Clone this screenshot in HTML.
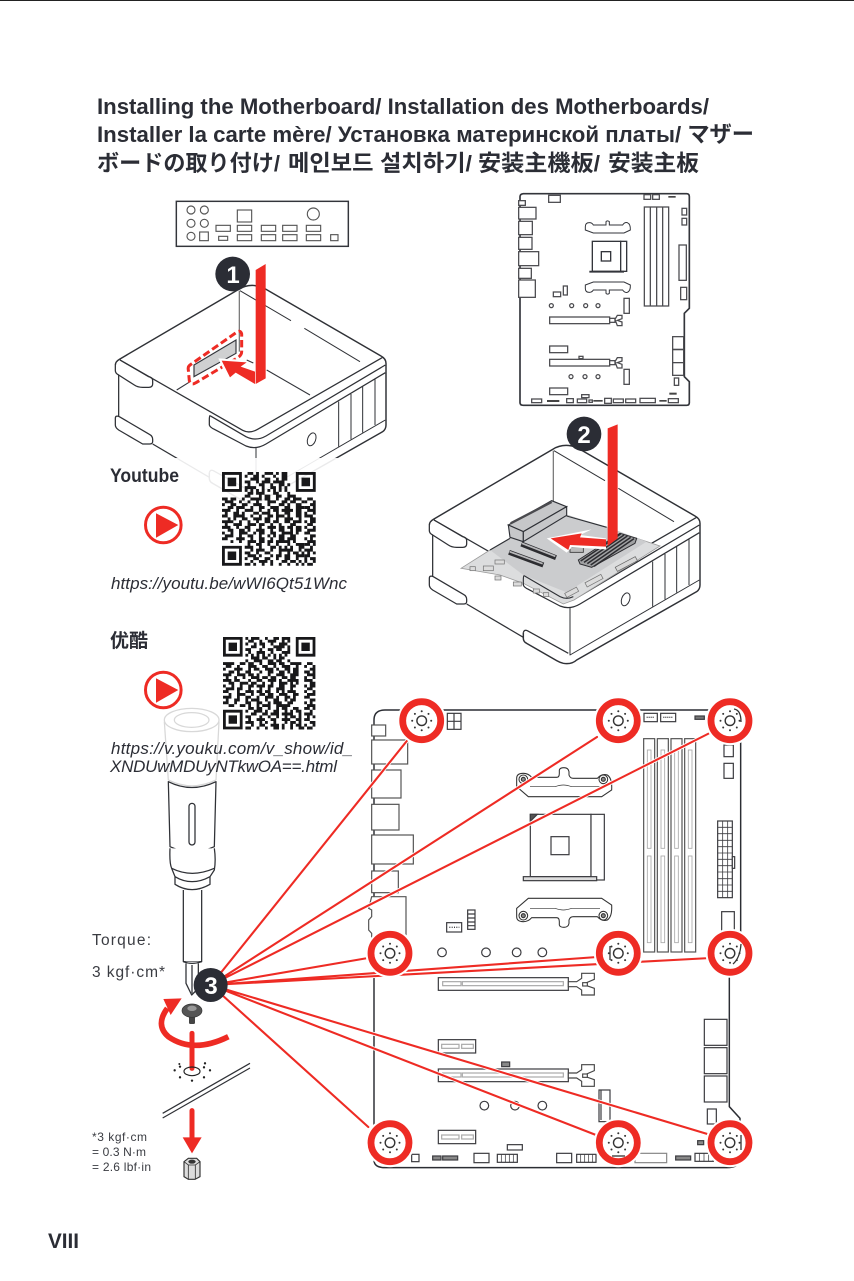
<!DOCTYPE html>
<html><head><meta charset="utf-8"><style>
html,body{margin:0;padding:0;background:#fff}
svg{display:block}
text{font-family:"Liberation Sans","Noto Sans CJK JP",sans-serif;fill:#2b2d35}
</style></head><body>
<svg width="854" height="1281" viewBox="0 0 854 1281" xmlns="http://www.w3.org/2000/svg">
<defs>
<g id="case" fill="none" stroke="#2f3136" stroke-width="3.8" stroke-linejoin="round">
<path fill="#fff" stroke="none" d="M28,345Q28,335 40,328L398,118Q430,98 470,112L825,318Q840,326 840,340V525Q840,538 830,545L470,750Q455,764 430,760Q420,758 410,752L320,700Q310,695 310,685V665L140,582H110L38,540Q28,533 28,525V505L38,495V375Q28,370 28,360Z"/>
<path stroke-width="4.4" d="M28,345Q28,335 40,328L398,118Q430,98 470,112L825,318Q840,326 840,340V525Q840,538 830,545L470,750Q455,764 430,760Q420,758 410,752L320,700Q310,695 310,685V668"/>
<path d="M42,330L410,541Q430,552 455,538L830,322"/>
<path d="M312,497L420,560Q450,575 480,558L838,345"/>
<path d="M312,497Q310,497 310,510V525Q312,532 325,538L420,588Q450,600 480,582L838,368"/>
<path d="M28,345V362Q28,370 38,375L85,405Q95,412 110,412H128Q140,412 140,402V392Q140,382 128,380L42,330"/>
<path d="M38,375V498"/>
<path d="M28,505Q28,495 40,500L130,553Q140,558 140,568V575Q140,583 128,582H110L38,540Q28,533 28,525Z"/>
<path d="M140,582L310,682"/>
<path d="M310,668Q312,658 322,662L445,730"/>
<path d="M450,592V735L838,510" stroke-width="3"/>
<path stroke="#777" d="M400,122V305"/>
<path stroke-width="3" d="M402,122L555,212M595,235L762,335"/>
<path stroke-width="3" d="M698,455V590M735,432V568M770,410V548M807,388V525"/>
<ellipse cx="617" cy="568" rx="12" ry="20" transform="rotate(20 617 568)" stroke-width="3"/>
</g>
<g id="screw" fill="none" stroke="#333">
<circle r="4.8" stroke-width="1.4"/>
<g fill="#333" stroke="none"><circle cx="0" cy="-9.5" r="1"/><circle cx="6.8" cy="-6.8" r="1"/><circle cx="9.5" cy="0" r="1"/><circle cx="6.8" cy="6.8" r="1"/><circle cx="0" cy="9.5" r="1"/><circle cx="-6.8" cy="6.8" r="1"/><circle cx="-9.5" cy="0" r="1"/><circle cx="-6.8" cy="-6.8" r="1"/></g>
</g>
<g id="ring"><circle r="24.5" fill="#fff"/><circle r="19" fill="#fff" stroke="#ee2b24" stroke-width="6.8"/><use href="#screw"/></g>
<path id="finder" fill-rule="evenodd" d="M0 0h7v7h-7zM1 1v5h5v-5zM2 2h3v3h-3z"/>
<g id="lever" fill="#fff" stroke="#444" stroke-width="3.4">
<path d="M0,12H25L40,2V-13H78V5L55,15V24L78,32V52H40V37L25,27H0Z"/>
<rect x="43" y="15" width="14" height="10"/>
</g>
<g id="cooler" fill="#fff" stroke="#333" stroke-width="3.2">
<path d="M470,265Q470,250 490,250Q505,250 515,262H590Q598,262 598,250V240Q600,233 612,233Q625,233 627,245V255Q630,265 640,265H712Q725,250 742,255Q757,265 755,300L725,320H505L470,290Z"/>
<path fill="none" stroke-width="2" d="M510,290H585Q600,285 610,285Q620,285 635,290H720"/>
<circle cx="490" cy="268" r="13"/><circle cx="490" cy="268" r="6" fill="#888"/>
<circle cx="730" cy="268" r="13"/><circle cx="730" cy="268" r="6" fill="#888"/>
</g>
<path id="qrx" fill="none" stroke="#18181a" stroke-width="1.04" d="M30 9.5h2M29 10.5h1m2 0h1M31 11.5h2M29 12.5h2m1 0h1M30 13.5h3M29 14.5h1m2 0h1M29 15.5h3M31 16.5h2M29 17.5h1m1 0h2M30 18.5h2M29 19.5h1m2 0h1M30 20.5h3M29 21.5h2M31 22.5h2M29 23.5h1m1 0h1M30 24.5h3M29 25.5h2m1 0h1M31 26.5h1M29 27.5h3M30 28.5h1m1 0h1M29 29.5h2M31 30.5h2M29 31.5h1m2 0h1M30 32.5h2"/>
</defs>

<rect width="854" height="1281" fill="#fff"/>
<rect width="854" height="1" fill="#222"/>

<!-- Title -->
<text x="97" y="114" font-size="22.5" font-weight="700" textLength="612" lengthAdjust="spacingAndGlyphs">Installing the Motherboard/ Installation des Motherboards/</text>
<text x="97" y="142" font-size="22.5" font-weight="700" textLength="657" lengthAdjust="spacingAndGlyphs">Installer la carte mère/ Установка материнской платы/ マザー</text>
<text x="97" y="171" font-size="22.5" font-weight="700" textLength="183" lengthAdjust="spacingAndGlyphs">ボードの取り付け/</text>
<text x="288" y="171" font-size="22.5" font-weight="700" textLength="184" lengthAdjust="spacingAndGlyphs">메인보드 설치하기/</text>
<text x="478" y="171" font-size="22.5" font-weight="700" textLength="122" lengthAdjust="spacingAndGlyphs">安装主機板/</text>
<text x="608" y="171" font-size="22.5" font-weight="700" textLength="91" lengthAdjust="spacingAndGlyphs">安装主板</text>

<!-- IO shield -->
<g transform="translate(90 190) scale(.33333)" fill="#fff" stroke="#555" stroke-width="3.4">
<rect x="259" y="34" width="516" height="135" stroke="#33353b" stroke-width="4.4"/>
<circle cx="303" cy="60" r="12"/><circle cx="343" cy="60" r="12"/><circle cx="303" cy="100" r="12"/><circle cx="343" cy="100" r="12"/><circle cx="303" cy="139" r="12"/>
<rect x="329" y="126" width="26" height="26"/>
<rect x="378" y="106" width="43" height="18"/><rect x="386" y="139" width="27" height="12"/>
<rect x="442" y="60" width="43" height="36"/><rect x="442" y="106" width="43" height="18"/><rect x="442" y="134" width="43" height="18"/>
<rect x="514" y="106" width="43" height="18"/><rect x="514" y="134" width="43" height="18"/>
<rect x="578" y="106" width="43" height="18"/><rect x="578" y="134" width="43" height="18"/>
<rect x="649" y="106" width="43" height="18"/><rect x="649" y="134" width="43" height="18"/>
<circle cx="670" cy="72" r="18"/><rect x="722" y="134" width="22" height="18"/>
</g>

<!-- Case 1 -->
<g transform="translate(106 250) scale(.33333)"><use href="#case"/></g>
<path d="M176.7,390L190,381.7M246.7,360L253.3,363M266.7,370L310,395" stroke="#33353b" stroke-width="1.1" fill="none"/>
<g transform="translate(90 190) scale(.33333)">
<polygon points="312,525 438,450 438,490 312,560" fill="#cfd0d1" stroke="#33353b" stroke-width="3.5"/>
<path d="M300,525Q293,530 295,540L298,572Q303,588 318,578L440,505Q455,497 455,485V432Q452,418 438,428Z" fill="none" stroke="#ee2b24" stroke-width="9" stroke-dasharray="22 10"/>
<polygon points="385,505 470,510 462,525 505,540 505,590 437,555 415,572" fill="#fff"/>
<polygon points="395,512 470,517 452,530 495,545 495,582 437,548 420,562" fill="#ee2b24"/>
<polygon points="497,240 527,222 527,565 497,582" fill="#ee2b24"/>
<circle cx="428" cy="252" r="52" fill="#2b2d35"/>
</g>
<text x="233" y="283" font-size="24" font-weight="700" text-anchor="middle" style="fill:#fff">1</text>

<rect x="100" y="458" width="315" height="110" fill="#fff" fill-opacity=".9"/>

<!-- Top motherboard -->
<g transform="translate(420 180) scale(.33333)" fill="#fff" stroke="#33353b" stroke-width="4">
<path d="M300,50Q300,42 310,41H800Q808,41 808,50V385L793,400V590L808,605V668Q808,676 800,676H310Q300,676 300,668Z" fill="#fff" stroke-width="5"/>
<g stroke="#4a4a4e" stroke-width="3.8">
<rect x="296" y="62" width="20" height="14"/><rect x="296" y="82" width="52" height="35"/><rect x="296" y="124" width="41" height="40"/><rect x="296" y="172" width="40" height="36"/><rect x="296" y="215" width="60" height="42"/><rect x="296" y="265" width="38" height="30"/><rect x="296" y="300" width="50" height="52"/>
<rect x="386" y="46" width="35" height="21"/><rect x="672" y="44" width="20" height="14"/><rect x="698" y="44" width="20" height="14"/>
<rect x="786" y="85" width="14" height="20"/><rect x="786" y="115" width="14" height="20"/><rect x="777" y="195" width="22" height="106"/><rect x="782" y="322" width="18" height="37"/>
<rect x="673" y="81" width="73" height="297"/><path d="M691,81V378M710,81V378M728,81V378" fill="none"/>
<rect x="400" y="336" width="22" height="14"/><rect x="430" y="318" width="12" height="27"/>
<circle cx="394" cy="377" r="6"/><circle cx="455" cy="377" r="6"/><circle cx="497" cy="377" r="6"/><circle cx="534" cy="377" r="6"/>
<rect x="612" y="355" width="16" height="45"/>
<rect x="389" y="411" width="180" height="20"/><rect x="569" y="415" width="16" height="12"/>
<path d="M585,418L592,406H606V416L592,421 606,426V437H592Z"/>
<rect x="389" y="498" width="54" height="20"/><rect x="477" y="529" width="12" height="7"/>
<rect x="389" y="538" width="180" height="20"/><rect x="569" y="542" width="16" height="12"/>
<path d="M585,545L592,533H606V543L592,548 606,553V564H592Z"/>
<circle cx="453" cy="590" r="6"/><circle cx="495" cy="590" r="6"/><circle cx="534" cy="590" r="6"/>
<rect x="612" y="568" width="16" height="45"/><rect x="389" y="624" width="54" height="20"/><rect x="485" y="644" width="22" height="9"/>
<rect x="335" y="657" width="30" height="11"/><rect x="440" y="656" width="20" height="12"/><rect x="472" y="657" width="28" height="11"/><rect x="507" y="660" width="10" height="7"/><rect x="554" y="655" width="20" height="15"/><rect x="580" y="657" width="30" height="11"/><rect x="617" y="657" width="30" height="11"/><rect x="660" y="655" width="46" height="13"/><rect x="745" y="656" width="30" height="12"/>
<rect x="758" y="470" width="33" height="38"/><rect x="758" y="509" width="33" height="39"/><rect x="758" y="548" width="33" height="38"/><rect x="763" y="594" width="13" height="22"/>
</g>
<g fill="#444" stroke="none"><rect x="745" y="48" width="22" height="5"/><rect x="381" y="660" width="37" height="6"/><rect x="520" y="660" width="28" height="5"/><rect x="718" y="660" width="22" height="5"/><rect x="748" y="638" width="22" height="6"/></g>
<path d="M496,140Q496,128 508,128Q516,128 520,135H558V125Q562,120 568,125V135H608Q614,126 622,128Q632,132 631,150L612,159H520L496,150Z" stroke-width="3"/>
<path d="M496,325Q496,337 508,337Q516,337 520,330H558V340Q562,345 568,340V330H608Q614,339 622,337Q632,333 631,315L612,306H520L496,315Z" stroke-width="3"/>
<rect x="517" y="184" width="85" height="90"/><rect x="602" y="184" width="18" height="90"/><rect x="544" y="215" width="28" height="28"/>
<path d="M508,275H612" stroke-width="5.5" fill="none"/>
</g>

<!-- Case 2 -->
<g transform="translate(420 410) scale(.33333)">
<use href="#case"/>
<polygon points="123,475 210,420 270,385 440,315 720,408 462,570 430,582 310,520 240,495" fill="#dcddde" stroke="#9a9a9a" stroke-width="2.4"/>
<polygon points="210,420 270,385 310,395 440,315 560,350 680,395 440,547 310,495" fill="#cbccce"/>
<path d="M440,318L560,352" stroke="#2f3136" stroke-width="3.5" fill="none"/>
<path d="M210,420L270,385" stroke="#2f3136" stroke-width="3.5" fill="none"/>
<g fill="#c6c7c9" stroke="#2e3036" stroke-width="3.4">
<polygon points="265,345 395,272 440,290 310,365"/>
<polygon points="265,345 310,365 310,395 270,382"/>
<polygon points="310,365 440,290 440,316 310,395"/>
</g>
<path d="M272,340L395,276" stroke="#4a4a4e" stroke-width="7" fill="none"/>
<path d="M304,402L408,443M267,427L370,465" stroke="#2c2c30" stroke-width="15" fill="none"/>
<path d="M306,400L406,439M269,425L368,461" stroke="#b8b8ba" stroke-width="5" fill="none"/>
<polygon points="475,450 600,370 650,385 645,400 515,472 480,462" fill="#a0a1a3" stroke="#2c2c30" stroke-width="3"/>
<path d="M482,453L602,372M492,457L612,375M502,461L622,378M512,465L632,382M522,469L642,386" stroke="#2c2c30" stroke-width="4.5" fill="none"/>
<rect x="450" y="412" width="40" height="15" fill="#bbb" stroke="#333" stroke-width="2.5"/>
<rect x="585" y="455" width="68" height="14" transform="rotate(-28 619 462)" fill="#d8d8d8" stroke="#666" stroke-width="2.2"/>
<g fill="#dcdcdc" stroke="#777" stroke-width="2.2">
<rect x="150" y="470" width="16" height="12"/><rect x="190" y="468" width="30" height="14"/><rect x="225" y="450" width="28" height="12"/><rect x="225" y="498" width="18" height="12"/><rect x="280" y="516" width="24" height="12"/><rect x="340" y="537" width="18" height="12"/><rect x="370" y="548" width="16" height="12"/><rect x="435" y="540" width="40" height="14" transform="rotate(-28 455 547)"/><rect x="495" y="505" width="54" height="14" transform="rotate(-28 522 512)"/>
</g>
<path d="M312,497L420,560Q440,570 460,560" fill="none" stroke="#2f3136" stroke-width="3.4"/>
<path d="M312,497Q310,497 310,510V525" fill="none" stroke="#2f3136" stroke-width="3.4"/>
<polygon points="380,385 515,358 480,375 558,385 558,418 455,412 440,428" fill="#fff"/>
<polygon points="392,385 485,370 480,382 558,388 558,410 450,405 445,420" fill="#ee2b24"/>
<polygon points="563,55 593,43 593,385 563,408" fill="#ee2b24"/>
<circle cx="492" cy="72" r="52" fill="#2b2d35"/>
</g>
<text x="584" y="443" font-size="24" font-weight="700" text-anchor="middle" style="fill:#fff">2</text>

<!-- Youtube -->
<text x="110" y="482" font-size="19.5" font-weight="700" textLength="69" lengthAdjust="spacingAndGlyphs">Youtube</text>
<circle cx="163.3" cy="525" r="17.8" fill="#fff" stroke="#ee2b24" stroke-width="3"/>
<polygon points="156,513.3 156,537.7 178.3,525" fill="#ee2b24"/>
<text x="111" y="589" font-size="17" font-style="italic" textLength="236" lengthAdjust="spacing">https://youtu.be/wWI6Qt51Wnc</text>

<g transform="translate(222 472) scale(2.84)" fill="#18181a">
<use href="#finder"/><use href="#finder" x="26"/><use href="#finder" y="26"/>
<use href="#qrx"/>
<path fill="none" stroke="#18181a" stroke-width="1.04" d="M9 .5h2m1 0h1m2 0h3m1 0h1m1 0h2M8 1.5h1m2 0h2m1 0h1m3 0h1m2 0h2M10 2.5h3m2 0h2m2 0h1m1 0h2M8 3.5h2m2 0h1m1 0h3m1 0h4M9 4.5h1m3 0h2m2 0h1m2 0h2m1 0h1M8 5.5h4m2 0h1m2 0h2m1 0h1m1 0h1M8 6.5h1m1 0h1m1 0h1m1 0h1m1 0h1m1 0h1m1 0h1m1 0h1M9 7.5h2m1 0h3m3 0h2m3 0h1M8 8.5h2m3 0h1m1 0h2m2 0h2m2 0h3M0 9.5h2m1 0h2m2 0h1m2 0h4m1 0h2m2 0h1m2 0h2m1 0h3M1 10.5h3m2 0h1m2 0h1m2 0h1m3 0h3m2 0h2m1 0h2m2 0h1M0 11.5h1m2 0h2m2 0h2m2 0h3m2 0h1m3 0h2m1 0h1m2 0h2M2 12.5h2m1 0h3m2 0h1m2 0h2m2 0h3m2 0h2m2 0h3M0 13.5h3m2 0h1m2 0h3m2 0h1m2 0h1m1 0h2m1 0h4m1 0h2M1 14.5h1m2 0h2m1 0h1m3 0h2m1 0h3m2 0h1m2 0h2m2 0h2M0 15.5h2m2 0h4m2 0h1m2 0h1m2 0h2m1 0h3m1 0h1m2 0h2M2 16.5h1m1 0h1m2 0h2m2 0h3m1 0h2m2 0h1m2 0h3m2 0h1M0 17.5h4m2 0h1m2 0h1m2 0h1m2 0h2m1 0h2m2 0h2m1 0h3M1 18.5h1m2 0h3m2 0h3m1 0h2m2 0h1m2 0h1m3 0h2M0 19.5h3m2 0h1m2 0h2m3 0h1m2 0h3m1 0h2m1 0h2m1 0h2M2 20.5h2m2 0h2m1 0h1m2 0h3m2 0h1m2 0h2m2 0h1m1 0h2M0 21.5h1m2 0h1m2 0h3m2 0h1m1 0h2m2 0h2m2 0h4m1 0h1M1 22.5h3m2 0h1m2 0h2m2 0h1m2 0h1m1 0h1m1 0h2m2 0h2M0 23.5h2m3 0h3m2 0h1m2 0h2m2 0h1m2 0h2m1 0h3M3 24.5h1m2 0h1m2 0h3m1 0h2m1 0h2m1 0h5m1 0h1M9 25.5h1m2 0h2m2 0h1m2 0h1m3 0h1m2 0h3M8 26.5h3m2 0h1m3 0h2m1 0h1m1 0h1m1 0h1m2 0h2M10 27.5h1m1 0h3m2 0h1m2 0h5m2 0h1M8 28.5h2m2 0h1m2 0h2m3 0h1m2 0h1m1 0h2m1 0h1M9 29.5h3m1 0h1m3 0h1m1 0h2m1 0h2m2 0h3M8 30.5h1m2 0h2m2 0h2m2 0h1m2 0h2m2 0h1m2 0h1M10 31.5h1m2 0h3m1 0h1m3 0h2m1 0h2m1 0h1M8 32.5h2m1 0h1m2 0h1m2 0h1m2 0h1m2 0h1m2 0h1m1 0h1"/>
</g>

<!-- Youku -->
<text x="110" y="647" font-size="19" font-weight="700">优酷</text>
<circle cx="163.3" cy="690" r="17.8" fill="#fff" stroke="#ee2b24" stroke-width="3"/>
<polygon points="156,678.3 156,702.7 178.3,690" fill="#ee2b24"/>

<g transform="translate(223 637) scale(2.8)" fill="#18181a">
<use href="#finder"/><use href="#finder" x="26"/><use href="#finder" y="26"/>
<use href="#qrx"/>
<path fill="none" stroke="#18181a" stroke-width="1.04" d="M8 .5h1m1 0h3m2 0h1m2 0h2m1 0h3M9 1.5h2m2 0h1m2 0h3m2 0h1m1 0h1M8 2.5h1m2 0h1m1 0h2m2 0h1m2 0h3M10 3.5h2m2 0h1m3 0h4m1 0h1M8 4.5h2m3 0h1m2 0h2m1 0h2m2 0h1M9 5.5h1m2 0h3m2 0h1m3 0h3M8 6.5h1m1 0h1m1 0h1m1 0h1m1 0h1m1 0h1m1 0h1m1 0h1M10 7.5h3m1 0h2m2 0h1m1 0h2M8 8.5h1m2 0h3m2 0h2m1 0h2m2 0h1M0 9.5h4m2 0h2m1 0h2m2 0h1m2 0h3m1 0h2m2 0h4M1 10.5h2m2 0h1m3 0h3m2 0h2m2 0h1m2 0h3m2 0h1M0 11.5h1m3 0h3m2 0h1m1 0h2m2 0h3m1 0h1m2 0h2m1 0h2M2 12.5h2m1 0h1m2 0h2m3 0h1m2 0h2m2 0h2m1 0h1m1 0h2M0 13.5h3m2 0h3m1 0h2m1 0h1m3 0h1m2 0h3m2 0h3M1 14.5h1m2 0h1m2 0h1m2 0h3m1 0h2m1 0h2m2 0h2m1 0h2M0 15.5h3m1 0h2m3 0h1m2 0h2m2 0h3m1 0h1m2 0h4M2 16.5h2m2 0h3m1 0h2m2 0h1m2 0h1m2 0h3m1 0h1m1 0h1M0 17.5h1m2 0h1m2 0h1m2 0h2m1 0h3m1 0h2m2 0h2m2 0h2M1 18.5h3m1 0h2m2 0h1m3 0h1m2 0h1m2 0h3m2 0h1M0 19.5h2m3 0h1m2 0h3m1 0h2m1 0h2m2 0h1m1 0h1m1 0h3M2 20.5h1m2 0h3m2 0h1m2 0h2m1 0h2m2 0h3m2 0h2M0 21.5h3m2 0h1m2 0h2m2 0h1m2 0h3m1 0h1m2 0h2m1 0h1M1 22.5h1m2 0h2m2 0h1m1 0h3m2 0h1m2 0h2m2 0h1m1 0h2M0 23.5h2m2 0h1m3 0h2m2 0h2m2 0h1m1 0h3m2 0h2M2 24.5h2m2 0h2m1 0h1m2 0h1m1 0h3m2 0h5M9 25.5h2m1 0h2m2 0h1m2 0h1m1 0h2m2 0h2M8 26.5h1m2 0h3m1 0h1m2 0h2m2 0h1m1 0h1m1 0h2M10 27.5h2m2 0h2m1 0h3m1 0h4m2 0h1M8 28.5h2m3 0h1m2 0h1m2 0h1m2 0h1m1 0h2m1 0h1M9 29.5h1m2 0h3m2 0h2m2 0h3m2 0h2M8 30.5h3m2 0h1m1 0h1m2 0h1m3 0h1m1 0h2m1 0h1M10 31.5h1m2 0h2m2 0h3m1 0h1m2 0h1m1 0h2M8 32.5h2m2 0h1m2 0h1m2 0h2m1 0h1m2 0h1m2 0h2"/>
</g>

<!-- Screwdriver -->
<g transform="translate(80 700) scale(.33333)" fill="none" stroke="#2f3136" stroke-width="3.8" stroke-linejoin="round">
<g stroke="#d8d8d8">
<ellipse cx="335" cy="60" rx="82" ry="35"/><ellipse cx="335" cy="60" rx="52" ry="22"/>
<path d="M253,65L265,240M417,65L408,240M265,240Q335,275 408,240"/>
</g>
<path d="M265,245Q335,280 408,245L403,440Q335,470 270,440Z" fill="#fff"/>
<rect x="327" y="310" width="18" height="125" rx="9"/>
<path d="M270,445Q268,490 275,505L285,530V553Q335,585 390,553V530L403,510Q408,480 403,445" fill="#fff"/>
<path d="M275,505Q335,535 403,505M285,530Q335,560 390,530"/>
<path d="M310,570V785H365V570"/>
<path d="M310,785Q335,795 365,785M318,790V850L335,885 355,865V790" fill="#fff"/>
<path d="M336,795V880"/>
</g>
<text x="92" y="945" font-size="15.5" textLength="59" lengthAdjust="spacing" style="fill:#3a3c42">Torque:</text>
<text x="92" y="977" font-size="15.5" textLength="73" lengthAdjust="spacing" style="fill:#3a3c42">3 kgf·cm*</text>
<text x="111" y="754" font-size="17" font-style="italic" textLength="242" lengthAdjust="spacing">https://v.youku.com/v_show/id_</text>
<text x="110" y="772" font-size="17" font-style="italic" textLength="227" lengthAdjust="spacing">XNDUwMDUyNTkwOA==.html</text>

<!-- Large motherboard -->
<g transform="translate(360 690) scale(.33333)" fill="#fff" stroke="#3c3c40" stroke-width="3.6">
<path d="M42,90Q42,60 75,60H1142V800L1108,800V1250L1140,1285V1405Q1140,1433 1100,1433H75Q42,1433 42,1410Z" stroke="#2b2d33" stroke-width="4.4"/>
<rect x="262" y="70" width="41" height="48"/><path d="M282,70V118M262,94H303" fill="none"/>
<rect x="852" y="70" width="40" height="25"/><rect x="902" y="70" width="45" height="25"/>
<path d="M860,82h24M910,82h28" stroke-width="4" stroke-dasharray="3 3" fill="none"/>
<rect x="1005" y="78" width="28" height="10" fill="#777"/>
<rect x="1092" y="165" width="28" height="35"/><rect x="1092" y="220" width="28" height="45"/>
<g stroke="#555">
<rect x="851" y="146" width="33" height="640"/><rect x="892" y="146" width="33" height="640"/><rect x="933" y="146" width="33" height="640"/><rect x="974" y="146" width="33" height="640"/>
</g>
<g stroke="#aaa" stroke-width="2.6">
<rect x="862" y="180" width="11" height="295"/><rect x="862" y="498" width="11" height="260"/>
<rect x="903" y="180" width="11" height="295"/><rect x="903" y="498" width="11" height="260"/>
<rect x="944" y="180" width="11" height="295"/><rect x="944" y="498" width="11" height="260"/>
<rect x="985" y="180" width="11" height="295"/><rect x="985" y="498" width="11" height="260"/>
</g>
<use href="#cooler"/>
<use href="#cooler" transform="translate(0 945) scale(1 -1)"/>
<rect x="511" y="373" width="182" height="187"/><rect x="693" y="373" width="40" height="197"/><rect x="573" y="440" width="54" height="54"/>
<rect x="490" y="560" width="220" height="12" fill="#ddd"/>
<polygon points="511,373 532,373 511,394" fill="#555"/>
<rect x="1073" y="393" width="44" height="230"/>
<path d="M1088,393V623M1103,393V623M1073,412H1117M1073,431H1117M1073,451H1117M1073,470H1117M1073,489H1117M1073,508H1117M1073,527H1117M1073,546H1117M1073,566H1117M1073,585H1117M1073,604H1117" fill="none" stroke-width="2.4"/>
<rect x="1117" y="500" width="7" height="35"/>
<rect x="1085" y="665" width="38" height="60"/>
<g stroke="#555">
<rect x="35" y="105" width="42" height="33"/><rect x="35" y="150" width="108" height="72"/><rect x="35" y="240" width="88" height="84"/><rect x="35" y="343" width="82" height="77"/><rect x="35" y="435" width="125" height="87"/><rect x="35" y="543" width="80" height="65"/>
<path d="M35,620H138V760H35V730L26,720V690L35,680V660L26,655Z"/>
</g>
<rect x="260" y="698" width="45" height="28"/><path d="M268,712h30" stroke-width="4" stroke-dasharray="3 4" fill="none"/>
<rect x="323" y="660" width="22" height="58"/><path d="M323,672h22M323,684h22M323,696h22M323,707h22" stroke-width="3.5" fill="none"/>
<circle cx="246" cy="787" r="13"/><circle cx="378" cy="787" r="13"/><circle cx="470" cy="787" r="13"/><circle cx="547" cy="787" r="13"/>
<!-- PCIe -->
<rect x="235" y="863" width="390" height="38"/><rect x="248" y="875" width="55" height="12" stroke="#aaa"/><rect x="307" y="875" width="303" height="12" stroke="#aaa"/>
<use href="#lever" transform="translate(625 863)"/>
<rect x="235" y="1049" width="112" height="40"/><rect x="245" y="1063" width="52" height="12" stroke="#aaa"/><rect x="305" y="1063" width="35" height="12" stroke="#aaa"/>
<rect x="425" y="1116" width="24" height="14" fill="#888"/>
<rect x="235" y="1137" width="390" height="38"/><rect x="248" y="1149" width="55" height="12" stroke="#aaa"/><rect x="307" y="1149" width="303" height="12" stroke="#aaa"/>
<use href="#lever" transform="translate(625 1137)"/>
<circle cx="373" cy="1247" r="13"/><circle cx="465" cy="1247" r="13"/><circle cx="547" cy="1247" r="13"/>
<rect x="717" y="1200" width="33" height="95"/><path d="M723,1200V1290" fill="none"/>
<rect x="1033" y="988" width="68" height="78"/><rect x="1033" y="1073" width="68" height="78"/><rect x="1033" y="1158" width="68" height="78"/>
<rect x="1042" y="1257" width="27" height="45"/>
<rect x="235" y="1321" width="112" height="40"/><rect x="245" y="1335" width="52" height="12" stroke="#aaa"/><rect x="305" y="1335" width="35" height="12" stroke="#aaa"/>
<rect x="442" y="1364" width="45" height="16"/>
<rect x="155" y="1393" width="22" height="22"/>
<rect x="218" y="1398" width="25" height="12" fill="#888"/><rect x="248" y="1398" width="45" height="12" fill="#888"/>
<rect x="342" y="1390" width="45" height="28"/><rect x="412" y="1393" width="60" height="24"/><path d="M424,1393V1417M436,1393V1417M448,1393V1417M460,1393V1417" fill="none" stroke-width="2.2"/>
<rect x="590" y="1390" width="45" height="28"/><rect x="650" y="1393" width="58" height="24"/><path d="M662,1393V1417M674,1393V1417M686,1393V1417M698,1393V1417" fill="none" stroke-width="2.2"/>
<rect x="825" y="1390" width="95" height="28" stroke="#888"/>
<rect x="947" y="1398" width="45" height="12" fill="#888"/>
<rect x="1005" y="1390" width="55" height="24"/><path d="M1018,1390V1414M1032,1390V1414M1046,1390V1414" fill="none" stroke-width="2.2"/>
<rect x="1013" y="1352" width="18" height="12" fill="#888"/>
</g>

<!-- red lines -->
<g fill="none" stroke-linecap="round">
<path d="M211,985L410,737M211,985L597,737M211,985L711.7,732M211,985L368,958M211,985L597.3,957M211,985L710.7,958M211,985L368.3,1127M211,985L596,1135M211,985L710.7,1135" stroke="#fff" stroke-width="3.8"/>
<path d="M211,985L410,737M211,985L597,737M211,985L711.7,732M211,985L368,958M211,985L597.3,957M211,985L710.7,958M211,985L368.3,1127M211,985L596,1135M211,985L710.7,1135" stroke="#ee2b24" stroke-width="2.1"/>
</g>

<use href="#ring" x="421.7" y="720.7"/>
<use href="#ring" x="618.3" y="720.7"/>
<use href="#ring" x="730" y="720.7"/>
<use href="#ring" x="390" y="953.3"/>
<use href="#ring" x="618.3" y="953.3"/>
<use href="#ring" x="730" y="953.3"/>
<use href="#ring" x="390" y="1142.7"/>
<use href="#ring" x="618.3" y="1142.7"/>
<use href="#ring" x="730" y="1142.7"/>
<g fill="none" stroke="#333" stroke-width="1.3">
<path d="M734,709Q741,710 741,722"/>
<path d="M741,944Q740,958 733,964"/>
<path d="M610,946V960"/>
<path d="M741,1135V1150"/>
<path d="M612,1156H625"/>
</g>

<!-- Lower assembly -->
<g transform="translate(80 700) scale(.33333)">
<path d="M445,1010Q340,1062 265,1010Q225,975 262,925" fill="none" stroke="#ee2b24" stroke-width="17"/>
<polygon points="250,897 305,895 272,945" fill="#ee2b24"/>
<path d="M336,1000V1105" stroke="#ee2b24" stroke-width="15" stroke-linecap="round"/>
<rect x="327" y="940" width="18" height="32" rx="4" fill="#444"/>
<ellipse cx="336" cy="932" rx="30" ry="20" fill="#555" stroke="#333" stroke-width="2"/>
<ellipse cx="336" cy="925" rx="14" ry="8" fill="#999"/>
<ellipse cx="336" cy="1114" rx="24" ry="13" fill="none" stroke="#222" stroke-width="3.5"/>
<g fill="#222"><circle cx="284" cy="1111" r="3.5"/><circle cx="300" cy="1100" r="3.5"/><circle cx="298" cy="1092" r="3"/><circle cx="375" cy="1090" r="3.5"/><circle cx="372" cy="1102" r="3.5"/><circle cx="390" cy="1111" r="3.5"/><circle cx="372" cy="1132" r="3.5"/><circle cx="336" cy="1142" r="3.5"/><circle cx="300" cy="1132" r="3.5"/></g>
<path d="M248,1240L510,1090M248,1254L510,1104" stroke="#2f3136" stroke-width="3.6"/>
<path d="M336,1232V1320" stroke="#ee2b24" stroke-width="15" stroke-linecap="round"/>
<polygon points="308,1312 365,1312 336,1360" fill="#ee2b24"/>
<path d="M312,1385L325,1375H350L360,1385V1430L345,1438H325L312,1430Z" fill="#dcdcdc" stroke="#333" stroke-width="3.5"/>
<ellipse cx="336" cy="1385" rx="11" ry="6" fill="#333"/>
<path d="M325,1395V1438M346,1395V1438M312,1385L325,1395H346L360,1385" fill="none" stroke="#333" stroke-width="2.5"/>
<circle cx="392" cy="855" r="51" fill="#2b2d35"/>
</g>
<text x="211" y="994" font-size="24" font-weight="700" text-anchor="middle" style="fill:#fff">3</text>

<text x="92" y="1141" font-size="12" textLength="55" lengthAdjust="spacing" style="fill:#3a3c42">*3 kgf·cm</text>
<text x="92" y="1156" font-size="12" textLength="54" lengthAdjust="spacing" style="fill:#3a3c42">= 0.3 N·m</text>
<text x="92" y="1171" font-size="12" textLength="59" lengthAdjust="spacing" style="fill:#3a3c42">= 2.6 lbf·in</text>

<text x="48" y="1248" font-size="21" font-weight="700" textLength="31" lengthAdjust="spacingAndGlyphs">VIII</text>
</svg>
</body></html>
